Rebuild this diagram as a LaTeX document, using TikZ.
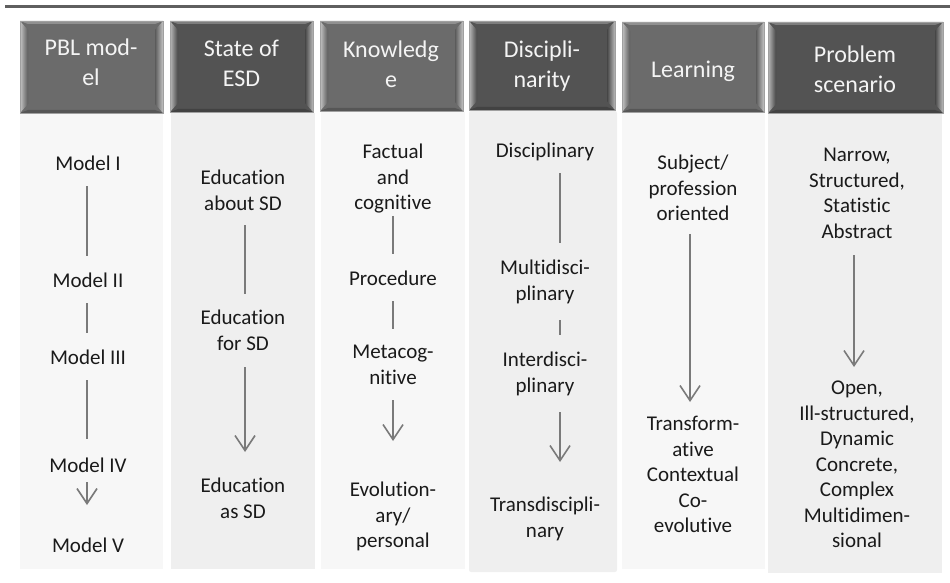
\documentclass[tikz,border=0pt]{standalone}
\usepackage{fontspec}
\setmainfont{Carlito}[Ligatures={NoCommon}]
\usetikzlibrary{arrows.meta}
\definecolor{topbar}{HTML}{5F5F5F}
\definecolor{hmed}{HTML}{6B6B6B}
\definecolor{hdark}{HTML}{535353}
\definecolor{blight}{HTML}{F7F7F7}
\definecolor{bdark}{HTML}{EFEFEF}
\definecolor{linec}{HTML}{7A7A7A}
\definecolor{txtc}{HTML}{1A1A1A}
\definecolor{htxt}{HTML}{F4F4F4}
\definecolor{bevline}{HTML}{A0A0A0}
\newcommand{\bevelbox}[5]{%
  \fill[#5] (#1,#2) rectangle (#3,#4);
  \fill[#5!75!white] (#1,#2) -- (#3,#2) -- (#3-8,#2+3) -- (#1+8,#2+3) -- cycle;
  \fill[#5!80!black] (#1,#4) -- (#3,#4) -- (#3-8,#4-3) -- (#1+8,#4-3) -- cycle;
  \shade[left color=#5!40!white, right color=#5!85!black] (#1,#2) -- (#1+8,#2+9) -- (#1+8,#4-9) -- (#1,#4) -- cycle;
  \shade[right color=#5!40!white, left color=#5!85!black] (#3,#2) -- (#3-8,#2+9) -- (#3-8,#4-9) -- (#3,#4) -- cycle;
  \draw[bevline, line width=0.8pt] (#1,#2) rectangle (#3,#4);
}
\tikzset{
  txt/.style={align=center, anchor=north, inner sep=0pt, text=txtc,
    font=\fontsize{21}{25.5}\selectfont,
    execute at begin node={\rule{0pt}{16pt}},
    execute at end node={\rule[-6pt]{0pt}{6pt}}},
  htx/.style={align=center, anchor=north, inner sep=0pt, text=htxt,
    font=\fontsize{24}{29.5}\selectfont,
    execute at begin node={\rule{0pt}{19pt}}},
  conn/.style={draw=linec, line width=1.6pt},
  arr/.style={conn, -{Straight Barb[length=15pt,width=20pt]}}
}
\begin{document}
\begin{tikzpicture}[x=1pt,y=-1pt]
\useasboundingbox (0,0) rectangle (950,583);
% top rule
\fill[topbar] (5,5) rectangle (950,8.3);
% column bodies
\fill[blight] (20,113) rectangle (163,569);
\fill[bdark] (171,113) rectangle (315,569);
\fill[blight] (321,112) rectangle (465,569);
\fill[bdark, rounded corners=2pt] (469,111) rectangle (617,572);
\fill[blight] (622,113) rectangle (765,569);
\fill[bdark] (768,113) rectangle (942,573);
% headers
\bevelbox{20}{21}{163}{113}{hmed}
\bevelbox{170}{21}{313}{112}{hdark}
\bevelbox{320}{21}{463}{111}{hmed}
\bevelbox{469}{21}{615}{110}{hdark}
\bevelbox{622}{22}{764}{112}{hmed}
\bevelbox{768}{22}{943}{113}{hdark}
\node[htx] (h1) at (91,39) {PBL mod-\\el};
\node[htx] (h2) at (241.5,40) {State of\\ESD};
\node[htx] (h3) at (391,41) {Knowledg\\e};
\node[htx] (h4) at (542,41) {Discipli-\\narity};
\node[htx] (h5) at (693,58) {Learning};
\node[htx] (h6) at (855,46) {Problem\\scenario};
% column 1
\node[txt] (m1) at (88,154) {Model I};
\node[txt] (m2) at (88,271) {Model II};
\node[txt] (m3) at (88,348) {Model III};
\node[txt] (m4) at (88,456) {Model IV};
\node[txt] (m5) at (88,536) {Model V};
\coordinate (x1) at (87,0);
\draw[conn, shorten <=10pt, shorten >=15pt] (m1.south -| x1) -- (m2.north -| x1);
\draw[conn, shorten <=10pt, shorten >=15pt] (m2.south -| x1) -- (m3.north -| x1);
\draw[conn, shorten <=10pt, shorten >=17pt] (m3.south -| x1) -- (m4.north -| x1);
\draw[arr, shorten <=4pt, shorten >=31pt] (m4.south -| x1) -- (m5.north -| x1);
% column 2
\node[txt] (e1) at (243,170) {Education\\about SD};
\node[txt] (e2) at (243,310) {Education\\for SD};
\node[txt] (e3) at (243,478) {Education\\as SD};
\coordinate (x2) at (245,0);
\draw[conn, shorten <=9pt, shorten >=16pt] (e1.south -| x2) -- (e2.north -| x2);
\draw[arr, shorten <=11pt, shorten >=26pt] (e2.south -| x2) -- (e3.north -| x2);
% column 3
\node[txt] (k1) at (393,144) {Factual\\and\\cognitive};
\node[txt] (k2) at (393,269) {Procedure};
\node[txt] (k3) at (393,345) {Metacog-\\nitive};
\node[txt] (k4) at (393,482) {Evolution-\\ary/\\personal};
\coordinate (x3) at (393,0);
\draw[conn, shorten >=15pt] (k1.south -| x3) -- (k2.north -| x3);
\draw[conn, shorten <=10pt, shorten >=16pt] (k2.south -| x3) -- (k3.north -| x3);
\draw[arr, shorten <=10pt, shorten >=41pt] (k3.south -| x3) -- (k4.north -| x3);
% column 4
\node[txt] (d1) at (545,141) {Disciplinary};
\node[txt] (d2) at (545,260) {Multidisci-\\plinary};
\node[txt] (d3) at (545,352) {Interdisci-\\plinary};
\node[txt] (d4) at (545,497) {Transdiscipli-\\nary};
\coordinate (x4) at (560,0);
\draw[conn, shorten <=10pt, shorten >=17pt] (d1.south -| x4) -- (d2.north -| x4);
\draw[conn, shorten <=14pt, shorten >=17pt] (d2.south -| x4) -- (d3.north -| x4);
\draw[arr, shorten <=14pt, shorten >=35pt] (d3.south -| x4) -- (d4.north -| x4);
% column 5
\node[txt] (l1) at (693,155) {Subject/\\profession\\oriented};
\node[txt] (l2) at (693,416) {Transform-\\ative\\Contextual\\Co-\\evolutive};
\coordinate (x5) at (690,0);
\draw[arr, shorten <=7pt, shorten >=14pt] (l1.south -| x5) -- (l2.north -| x5);
% column 6
\node[txt] (p1) at (857,148) {Narrow,\\Structured,\\Statistic\\Abstract};
\node[txt] (p2) at (857,381) {Open,\\Ill-structured,\\Dynamic\\Concrete,\\Complex\\Multidimen-\\sional};
\coordinate (x6) at (854,0);
\draw[arr, shorten <=11pt, shorten >=14pt] (p1.south -| x6) -- (p2.north -| x6);
\end{tikzpicture}
\end{document}
